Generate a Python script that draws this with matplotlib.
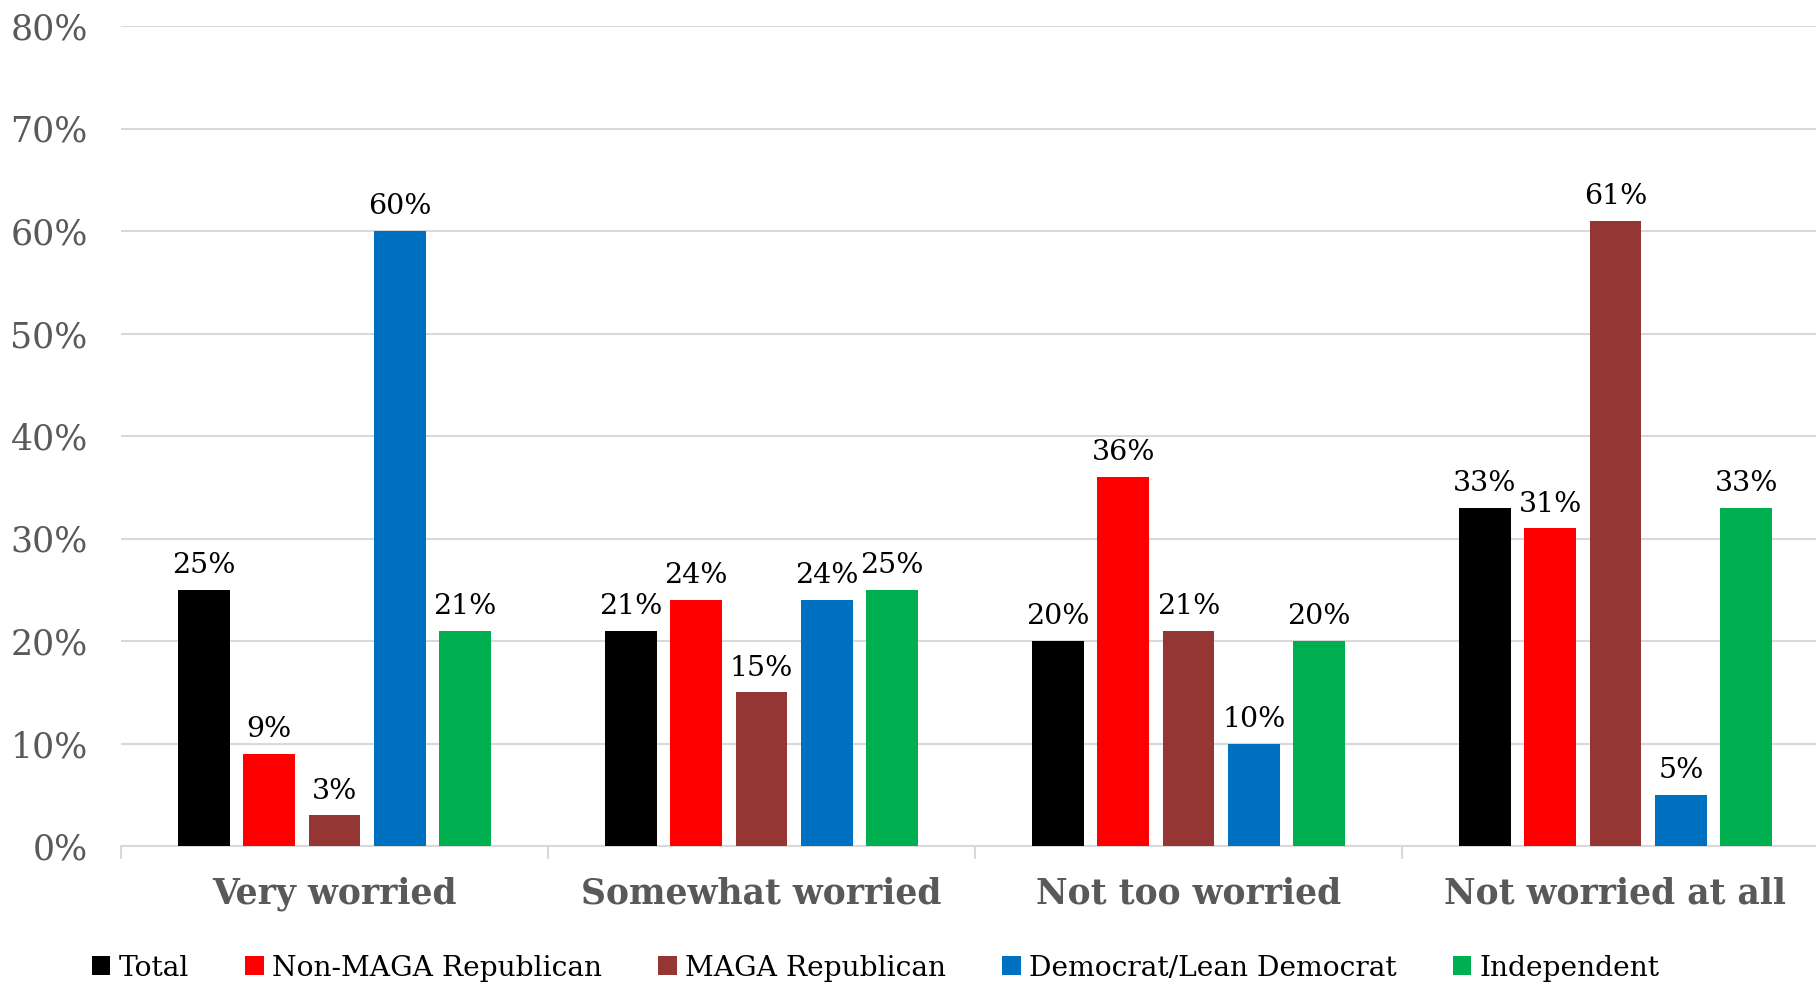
import matplotlib
matplotlib.use("Agg")
import matplotlib.pyplot as plt
from matplotlib.patches import Patch
from matplotlib.ticker import FixedLocator, PercentFormatter
import numpy as np

categories = ["Very worried", "Somewhat worried", "Not too worried", "Not worried at all"]
series_names = ["Total", "Non-MAGA Republican", "MAGA Republican",
                "Democrat/Lean Democrat", "Independent"]
total = [25, 21, 20, 33]
non_maga = [9, 24, 36, 31]
maga = [3, 15, 21, 61]
democrat = [60, 24, 10, 5]
independent = [21, 25, 20, 33]
colors = ["#000000", "#FF0000", "#943634", "#0070C0", "#00B050"]
y_ticks = [0, 10, 20, 30, 40, 50, 60, 70, 80]

series = [total, non_maga, maga, democrat, independent]

plt.rcParams['font.family'] = ['DejaVu Serif']

fig = plt.figure(figsize=(18.16, 9.84), dpi=100)
ax = fig.add_axes([121/1816, 1-846/984, 1708/1816, (846-26)/984])

x = np.arange(len(categories))
slot = 0.153
width = 0.1206
for i, (vals, c, name) in enumerate(zip(series, colors, series_names)):
    pos = x + (i - 2) * slot
    bars = ax.bar(pos, vals, width=width, color=c, label=name, zorder=3)
    for b, v in zip(bars, vals):
        ax.annotate(f"{v}%", (b.get_x() + b.get_width()/2, v),
                    xytext=(0, 12), textcoords="offset points",
                    ha="center", va="baseline", fontsize=20.5, color="black")

ax.set_xlim(-0.5, 3.5)
ax.set_ylim(0, 80)
ax.yaxis.set_major_locator(FixedLocator(y_ticks))
ax.yaxis.set_major_formatter(PercentFormatter(decimals=0))
ax.grid(axis="y", color="#D9D9D9", linewidth=1.5, zorder=0)
ax.tick_params(axis="y", length=0, labelsize=25, labelcolor="#595959", pad=24)

ax.xaxis.set_major_locator(FixedLocator([-0.5, 0.5, 1.5, 2.5, 3.5]))
ax.xaxis.set_major_formatter(plt.NullFormatter())
ax.xaxis.set_minor_locator(FixedLocator(list(x)))
ax.set_xticklabels(categories, minor=True)
ax.tick_params(axis="x", which="major", length=9, width=1.5, color="#D9D9D9")
ax.tick_params(axis="x", which="minor", length=0, pad=22)
for lbl in ax.get_xticklabels(minor=True):
    lbl.set_fontsize(24.9)
    lbl.set_fontweight("bold")
    lbl.set_color("#595959")

for s in ["top", "right", "left"]:
    ax.spines[s].set_visible(False)
ax.spines["bottom"].set_color("#D9D9D9")
ax.spines["bottom"].set_linewidth(1.5)

handles = [Patch(facecolor=c, edgecolor="none") for c in colors]
fig.legend(handles, series_names, loc="center left", bbox_to_anchor=(92/1816, 1-968/984),
           ncol=5, frameon=False, fontsize=20.25, handlelength=0.65, handleheight=0.65,
           handletextpad=0.3, columnspacing=2.0, borderaxespad=0, borderpad=0)

fig.savefig("out.png", dpi=100)
